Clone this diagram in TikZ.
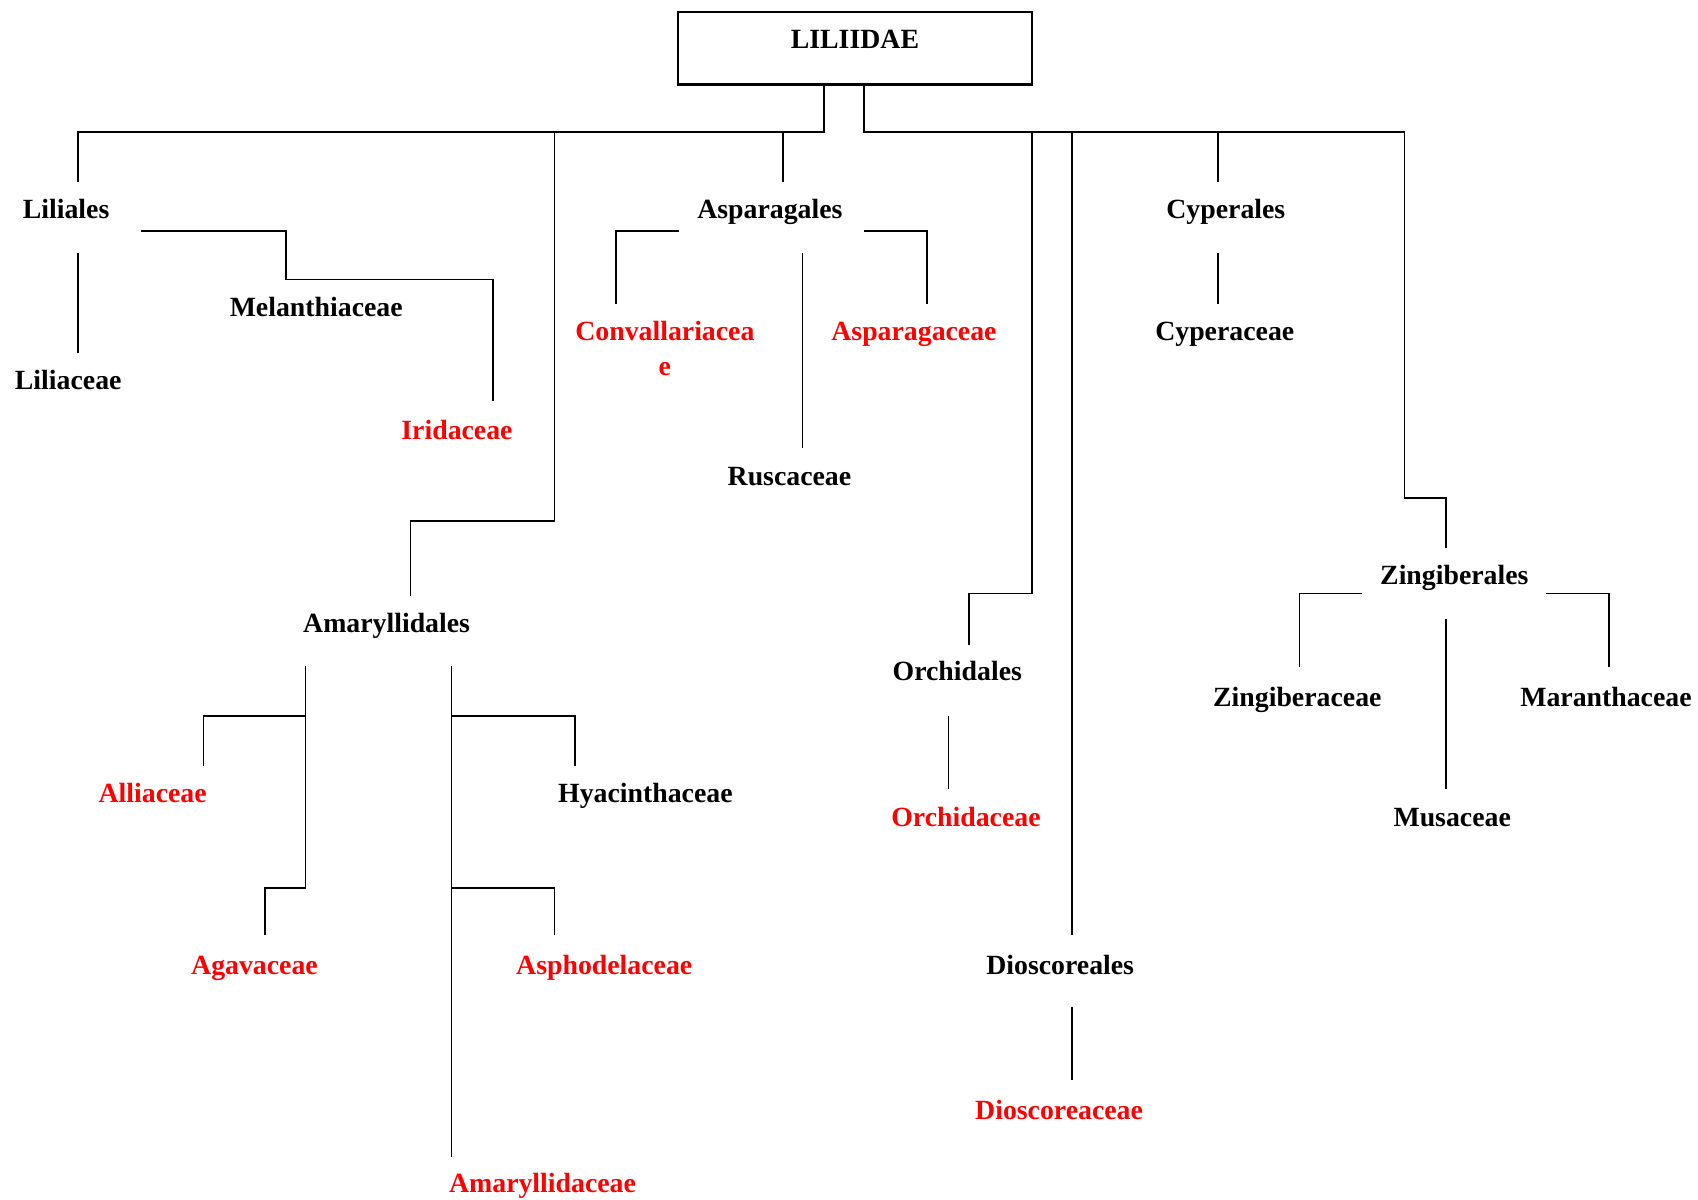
\documentclass[tikz,border=0pt]{standalone}
\usepackage{fontspec}
\setmainfont{Liberation Serif}
\usepackage{tikz}

\begin{document}
\begin{tikzpicture}[x=0.01cm,y=-0.01cm,line width=0.45pt,
  taxon/.style={anchor=base,inner sep=0pt,font=\fontsize{7.3}{9}\selectfont\bfseries},
  family/.style={taxon,text=red}]
\useasboundingbox (0,0) rectangle (1568,1108);

\node [draw,line width=0.6pt,minimum width=3.27cm,minimum height=0.67cm,inner sep=0pt,
  text height=0.34cm,text depth=0.33cm,font=\fontsize{7.3}{9}\selectfont\bfseries] (root) at (789.5,44.5) {LILIIDAE};

% orders
\node [taxon] (liliales) at (61,201.5) {Liliales};
\node [taxon] (asparagales) at (711,201.5) {Asparagales};
\node [taxon] (cyperales) at (1132,201.5) {Cyperales};
\node [taxon] (amaryllidales) at (357,584.5) {Amaryllidales};
\node [taxon] (orchidales) at (884,628.5) {Orchidales};
\node [taxon] (dioscoreales) at (979,899.5) {Dioscoreales};
\node [taxon] (zingiberales) at (1343,539.5) {Zingiberales};

% families
\node [taxon] (liliaceae) at (63,359.5) {Liliaceae};
\node [taxon] (melanthiaceae) at (292,292.5) {Melanthiaceae};
\node [family] (iridaceae) at (422,405.5) {Iridaceae};
\node [family,align=center] (convallariaceae) at (614,346.5) {Convallariacea\\e};
\node [taxon] (ruscaceae) at (729,448.5) {Ruscaceae};
\node [family] (asparagaceae) at (844,314.5) {Asparagaceae};
\node [taxon] (cyperaceae) at (1131,314.5) {Cyperaceae};
\node [family] (alliaceae) at (141,741.5) {Alliaceae};
\node [family] (agavaceae) at (235,899.5) {Agavaceae};
\node [taxon] (hyacinthaceae) at (596,741.5) {Hyacinthaceae};
\node [family] (asphodelaceae) at (558,899.5) {Asphodelaceae};
\node [family] (amaryllidaceae) at (501,1101.5) {Amaryllidaceae};
\node [family] (orchidaceae) at (892,763.5) {Orchidaceae};
\node [family] (dioscoreaceae) at (978,1033.5) {Dioscoreaceae};
\node [taxon] (zingiberaceae) at (1198,652.5) {Zingiberaceae};
\node [taxon] (musaceae) at (1341,763.5) {Musaceae};
\node [taxon] (maranthaceae) at (1483,652.5) {Maranthaceae};

% line ends
\coordinate (liliales-in) at (72,168);
\coordinate (liliales-out) at (72,234);
\coordinate (liliales-r) at (130,213);
\coordinate (liliaceae-in) at (72,326);
\coordinate (iridaceae-in) at (455,370);
\coordinate (asparagales-in) at (723,168);
\coordinate (asparagales-l) at (627,213);
\coordinate (asparagales-out) at (741,234);
\coordinate (asparagales-r) at (798,213);
\coordinate (convallariaceae-in) at (569,281);
\coordinate (ruscaceae-in) at (741,414);
\coordinate (asparagaceae-in) at (856,281);
\coordinate (cyperales-in) at (1125,168);
\coordinate (cyperales-out) at (1125,234);
\coordinate (cyperaceae-in) at (1125,281);
\coordinate (amaryllidales-in) at (379,550);
\coordinate (amaryllidales-l) at (282,615);
\coordinate (amaryllidales-r) at (417,615);
\coordinate (alliaceae-in) at (188,707);
\coordinate (agavaceae-in) at (245,863);
\coordinate (hyacinthaceae-in) at (531,707);
\coordinate (asphodelaceae-in) at (512,863);
\coordinate (amaryllidaceae-in) at (417,1068);
\coordinate (orchidales-in) at (895,596);
\coordinate (orchidales-out) at (876,661);
\coordinate (orchidaceae-in) at (876,729);
\coordinate (dioscoreales-in) at (990,863);
\coordinate (dioscoreales-out) at (990,930);
\coordinate (dioscoreaceae-in) at (990,997);
\coordinate (zingiberales-in) at (1335,506);
\coordinate (zingiberales-l) at (1258,548);
\coordinate (zingiberales-out) at (1335,572);
\coordinate (zingiberales-r) at (1428,548);
\coordinate (zingiberaceae-in) at (1200,616);
\coordinate (musaceae-in) at (1335,729);
\coordinate (maranthaceae-in) at (1486,616);

% left trunk
\draw (root.south -| 761,0) -- (761,122) -| (liliales-in)
      (512,122) |- (379,481) -- (amaryllidales-in)
      (723,122) -- (asparagales-in);
% right trunk
\draw (root.south -| 798,0) |- (1297,122) |- (1335,460) -- (zingiberales-in)
      (953,122) |- (895,548) -- (orchidales-in)
      (990,122) -- (dioscoreales-in)
      (1125,122) -- (cyperales-in);

\draw (liliales-out) -- (liliaceae-in);
\draw (liliales-r) -| (264,258) -| (iridaceae-in);

\draw (asparagales-l) -| (convallariaceae-in);
\draw (asparagales-out) -- (ruscaceae-in);
\draw (asparagales-r) -| (asparagaceae-in);

\draw (cyperales-out) -- (cyperaceae-in);

\draw (amaryllidales-l) -- (282,820) -| (agavaceae-in)
      (282,661) -| (alliaceae-in);
\draw (amaryllidales-r) -- (amaryllidaceae-in)
      (417,661) -| (hyacinthaceae-in)
      (417,820) -| (asphodelaceae-in);

\draw (orchidales-out) -- (orchidaceae-in);
\draw (dioscoreales-out) -- (dioscoreaceae-in);

\draw (zingiberales-l) -| (zingiberaceae-in);
\draw (zingiberales-out) -- (musaceae-in);
\draw (zingiberales-r) -| (maranthaceae-in);

\end{tikzpicture}
\end{document}
